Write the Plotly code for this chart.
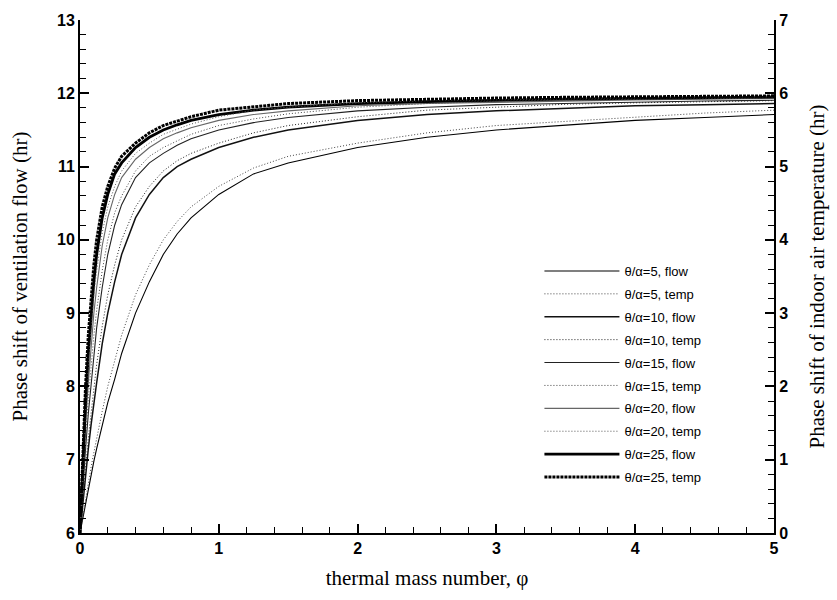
import plotly.graph_objects as go

# thermal mass number (x)
phi = [0, 0.02, 0.04, 0.06, 0.08, 0.1, 0.12, 0.16, 0.2, 0.25, 0.3, 0.4, 0.5,
       0.6, 0.7, 0.8, 1.0, 1.25, 1.5, 2.0, 2.5, 3.0, 3.5, 4.0, 4.5, 5.0]

# phase shift of ventilation flow (hr), left axis
flow5 = [6.0, 6.2, 6.42, 6.62, 6.8, 6.98, 7.15, 7.48, 7.78, 8.1, 8.45, 9.0, 9.43,
         9.8, 10.08, 10.3, 10.62, 10.9, 11.05, 11.26, 11.4, 11.5, 11.57, 11.63, 11.67, 11.71]
flow10 = [6.0, 6.42, 6.8, 7.15, 7.48, 7.78, 8.05, 8.58, 9.0, 9.43, 9.8, 10.3, 10.62,
          10.85, 11.0, 11.1, 11.26, 11.4, 11.5, 11.63, 11.71, 11.76, 11.8, 11.83, 11.845, 11.86]
flow15 = [6.0, 6.62, 7.15, 7.63, 8.05, 8.45, 8.8, 9.35, 9.8, 10.2, 10.48, 10.85, 11.05,
          11.18, 11.29, 11.38, 11.5, 11.6, 11.67, 11.76, 11.81, 11.845, 11.865, 11.88, 11.895, 11.905]
flow20 = [6.0, 6.8, 7.48, 8.05, 8.58, 9.0, 9.35, 9.92, 10.3, 10.62, 10.85, 11.1, 11.26,
          11.38, 11.46, 11.53, 11.63, 11.71, 11.76, 11.83, 11.86, 11.88, 11.9, 11.91, 11.92, 11.93]
flow25 = [6.0, 6.98, 7.78, 8.45, 9.0, 9.43, 9.8, 10.3, 10.62, 10.9, 11.05, 11.26, 11.4,
          11.5, 11.57, 11.63, 11.71, 11.77, 11.81, 11.86, 11.885, 11.905, 11.92, 11.93, 11.94, 11.95]

# phase shift of indoor air temperature (hr), right axis
temp5 = [0.0, 0.24, 0.48, 0.70, 0.90, 1.10, 1.30, 1.66, 2.00, 2.36, 2.70, 3.25, 3.66,
         4.00, 4.25, 4.45, 4.73, 4.98, 5.14, 5.32, 5.46, 5.56, 5.62, 5.68, 5.73, 5.77]
temp10 = [0.0, 0.48, 0.90, 1.30, 1.66, 2.00, 2.30, 2.82, 3.25, 3.66, 4.00, 4.45, 4.73,
          4.94, 5.08, 5.18, 5.32, 5.46, 5.56, 5.68, 5.77, 5.81, 5.85, 5.87, 5.89, 5.90]
temp15 = [0.0, 0.70, 1.30, 1.83, 2.30, 2.70, 3.04, 3.58, 4.00, 4.37, 4.60, 4.94, 5.14,
          5.26, 5.35, 5.44, 5.56, 5.65, 5.72, 5.81, 5.86, 5.89, 5.905, 5.915, 5.928, 5.935]
temp20 = [0.0, 0.90, 1.66, 2.30, 2.82, 3.25, 3.58, 4.10, 4.45, 4.73, 4.94, 5.18, 5.32,
          5.44, 5.51, 5.58, 5.68, 5.77, 5.81, 5.87, 5.90, 5.915, 5.93, 5.94, 5.95, 5.955]
temp25 = [0.0, 1.10, 2.00, 2.70, 3.25, 3.66, 4.00, 4.45, 4.73, 4.98, 5.14, 5.32, 5.46,
          5.56, 5.62, 5.68, 5.77, 5.82, 5.86, 5.90, 5.92, 5.935, 5.945, 5.955, 5.96, 5.965]

ratios = ["5", "10", "15", "20", "25"]
flows = [flow5, flow10, flow15, flow20, flow25]
temps = [temp5, temp10, temp15, temp20, temp25]
flow_colors = ["#000000", "#111111", "#222222", "#666666", "#000000"]
flow_widths = [1.1, 1.5, 1.1, 1.1, 2.8]
temp_colors = ["#444444", "#222222", "#444444", "#555555", "#000000"]
temp_widths = [1.0, 1.0, 1.0, 1.0, 3.0]
temp_dash = ["1px,2px", "1px,2px", "1px,2px", "1px,2px", "3px,1px"]

fig = go.Figure()
for i, r in enumerate(ratios):
    fig.add_trace(go.Scatter(
        x=phi, y=flows[i], mode="lines", name=f"θ/α={r}, flow",
        line=dict(color=flow_colors[i], width=flow_widths[i], dash="solid"),
        legendgroup=f"f{r}", yaxis="y"))
    fig.add_trace(go.Scatter(
        x=phi, y=temps[i], mode="lines", name=f"θ/α={r}, temp",
        line=dict(color=temp_colors[i], width=temp_widths[i], dash=temp_dash[i]),
        legendgroup=f"t{r}", yaxis="y2"))

tickfont = dict(family="Liberation Sans, Arial", size=16, color="black", weight="bold")
titlefont = dict(family="Liberation Serif, Times New Roman", size=21, color="black")

fig.update_layout(
    width=837, height=600,
    margin=dict(l=80, r=61, t=15, b=67),
    paper_bgcolor="white", plot_bgcolor="white",
    showlegend=True,
    legend=dict(x=0.662, y=0.54, xanchor="left", yanchor="top",
                bgcolor="rgba(0,0,0,0)", borderwidth=0,
                font=dict(family="Liberation Sans, Arial", size=13, color="black"),
                itemwidth=75, traceorder="grouped", tracegroupgap=3),
    xaxis=dict(range=[0, 5], dtick=1, tick0=0, showgrid=False, zeroline=False,
               showline=True, linecolor="black", linewidth=2, mirror=False,
               ticks="inside", ticklen=9, tickwidth=2, tickcolor="black",
               minor=dict(dtick=0.2, ticks="inside", ticklen=6, tickwidth=1, tickcolor="black"),
               tickfont=tickfont,
               title=dict(text="thermal mass number, φ", font=titlefont, standoff=14)),
    yaxis=dict(range=[6, 13], dtick=1, tick0=6, showgrid=False, zeroline=False,
               showline=True, linecolor="black", linewidth=2,
               ticks="inside", ticklen=9, tickwidth=2, tickcolor="black",
               minor=dict(dtick=0.2, ticks="inside", ticklen=6, tickwidth=1, tickcolor="black"),
               tickfont=tickfont,
               title=dict(text="Phase shift of ventilation flow (hr)", font=titlefont, standoff=24)),
    yaxis2=dict(range=[0, 7], dtick=1, tick0=0, overlaying="y", side="right",
                showgrid=False, zeroline=False,
                showline=True, linecolor="black", linewidth=2,
                ticks="inside", ticklen=9, tickwidth=2, tickcolor="black",
                minor=dict(dtick=0.2, ticks="inside", ticklen=6, tickwidth=1, tickcolor="black"),
                tickfont=tickfont,
                title=dict(text="Phase shift of indoor air temperature (hr)", font=titlefont, standoff=22)),
)

fig.write_html("out.html")
